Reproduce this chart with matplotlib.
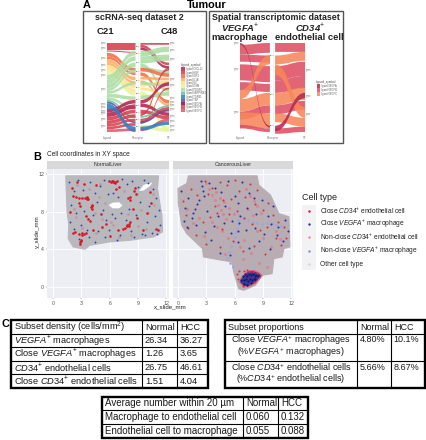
import matplotlib
matplotlib.use("Agg")
import matplotlib.pyplot as plt
from matplotlib.path import Path
from matplotlib.patches import PathPatch, Polygon, Rectangle

plt.rcParams['font.family'] = ['Liberation Sans', 'DejaVu Sans']
plt.rcParams['mathtext.fontset'] = 'custom'
plt.rcParams['mathtext.rm'] = 'Liberation Sans'
plt.rcParams['mathtext.it'] = 'Liberation Sans:italic'
plt.rcParams['mathtext.bf'] = 'Liberation Sans:bold'
plt.rcParams['mathtext.bfit'] = 'Liberation Sans:italic:bold'

W, H = 426, 440

# alluvial 1: colour index, start, end, height (percent of frequency, from top)
PAL1 = ['#b5234f', '#d53e4f', '#f46d43', '#fdae61', '#fee08b', '#e6f598', '#abdda4',
        '#66c2a5', '#2f7fc1', '#5e4fa2', '#9e0142', '#d8404f', '#e0566b']
LEG1 = ['ligand CXCL12', 'ligand HGF', 'ligand IGF1', 'ligand IL1B', 'ligand IL6',
        'ligand OSM', 'ligand PDGFC', 'ligand SERPINE1', 'ligand TGFB1', 'ligand TNF',
        'ligand VEGFA', 'ligand VEGFB', 'ligand VEGFC']
A1_LEFT = [(1, 0, 0, 8), (0, 8.5, 10, 1), (2, 11, 28, 4), (2, 15, 33, 3), (3, 18, 38, 4),
           (3, 22, 43, 3), (4, 25, 47, 4), (4, 29, 52, 3), (5, 32, 55, 4), (6, 36, 9, 5),
           (6, 41, 15, 5), (6, 46, 22, 5), (6, 51, 30, 3), (6, 54, 44, 3), (6, 57, 60, 4),
           (6, 61, 72, 3), (7, 64, 82, 2), (9, 66, 88, 2), (0, 74, 64, 4), (0, 78, 69, 5),
           (1, 83, 75, 4), (1, 87, 80, 4), (11, 91, 85, 3), (11, 94, 90, 3), (12, 97, 96, 3),
           (8, 68, 94, 6)]
A1_RIGHT = [(1, 0, 0, 2), (1, 2, 22, 3), (0, 5, 26, 3), (6, 9, 4, 6), (6, 15, 13, 4),
            (6, 19, 16, 4), (6, 23, 51, 4), (6, 27, 31, 3), (2, 28, 34, 4), (2, 33, 64, 4),
            (3, 38, 39, 3), (3, 42, 68, 3), (4, 46, 42, 3), (4, 50, 57, 3), (5, 54, 94, 5),
            (6, 59, 55, 4), (6, 44, 46, 3), (0, 64, 44, 4), (0, 68, 78, 4), (1, 75, 82, 4),
            (1, 79, 28, 3), (11, 85, 72, 4), (11, 89, 50, 2), (7, 82, 70, 2), (9, 88, 75, 2),
            (12, 96, 85, 3), (5, 92, 96, 4), (8, 94, 88, 4)]
A1_LAB_L = [0, 6, 17, 25, 30, 36, 52, 68, 72, 76, 79, 85, 93]
A1_LAB_M = [4, 12, 22, 32, 42, 50, 57, 63, 70, 78, 86, 94]
A1_LAB_R = [0, 8, 18, 40, 47, 62, 66, 70, 74, 82, 88, 93, 98]

# alluvial 2
PAL2 = ['#b8284f', '#dd5064', '#f6875a']
LEG2 = ['ligand VEGFA', 'ligand VEGFB', 'ligand VEGFC']
A2_LEFT = [(1, 2, 0, 11), (1, 13, 14, 8), (1, 24, 26, 18), (1, 44, 46, 9), (1, 77, 70, 9),
           (2, 78, 79, 17), (1, 92, 96, 4), (2, 53, 14, 10), (2, 63, 56, 14), (0, 0, 93, 2)]
A2_RIGHT = [(1, 0, 0, 10), (2, 14, 10, 10), (1, 26, 21, 16), (1, 42, 37, 14), (2, 56, 50, 14),
            (1, 70, 65, 10), (2, 79, 84, 10), (1, 96, 94, 6),
            (2, 24, 72, 12), (0, 93, 56, 6)]
A2_LAB_L = [0, 29, 78]
A2_LAB_M = [14, 58, 93]
A2_LAB_R = [30, 59, 80]

# tissue outlines, slide mm
NORMAL_X = [1.35, 11.17, 11.06, 11.28, 11.52, 11.6, 10.64, 8.16, 6.03, 3.9, 3.37, 2.13, 1.6, 1.67, 1.49, 1.42]
NORMAL_Y = [11.8, 11.8, 10.46, 9.04, 7.62, 5.85, 5.32, 4.96, 4.79, 4.43, 4.0, 4.26, 5.14, 6.56, 7.98, 9.75]
HOLE1_X = [5.9, 6.3, 7.0, 7.35, 7.0, 6.3]
HOLE1_Y = [8.7, 8.95, 9.0, 8.65, 8.35, 8.35]
HOLE2_X = [9.1, 9.6, 10.5, 10.3, 9.6]
HOLE2_Y = [10.2, 10.85, 11.1, 10.75, 10.25]
TUMOUR_X = [1.1, 8.37, 8.55, 9.79, 10.67, 11.74, 11.84, 11.2, 11.03, 10.14, 9.96, 8.9, 8.19,
            6.95, 6.42, 5.89, 5.71, 4.65, 2.7, 2.59, 0.92, 0.39, 0.04, 0.0, 0.92]
TUMOUR_Y = [11.8, 11.8, 10.82, 9.75, 7.8, 7.45, 4.26, 4.08, 3.19, 3.01, 1.42, 1.24, 0.18,
            -0.35, -0.18, 1.6, 2.66, 2.84, 3.19, 4.08, 5.67, 6.56, 8.87, 10.46, 10.99]
HOT_X = [6.7, 7.4, 8.0, 8.6, 8.9, 8.2, 7.4, 6.9, 6.5]
HOT_Y = [1.0, 1.7, 1.75, 1.5, 1.2, 0.4, 0.0, 0.1, 0.5]

# cells
N_RED_X = [2.0, 2.1, 2.4, 2.8, 3.1, 3.4, 3.6, 3.7, 2.8, 2.9, 4.1, 4.1, 3.5, 3.7, 3.9, 2.1, 2.3, 2.7, 3.1, 3.0, 2.9,
           5.9, 6.1, 6.3, 6.6, 6.8, 6.7, 7.0, 7.9, 8.2, 8.1, 8.7, 8.6, 8.8, 10.3, 10.4, 8.0, 7.8, 7.6, 7.4, 6.9,
           5.2, 5.6, 9.5, 9.9, 10.9, 11.1, 3.3, 4.5, 2.5, 1.8, 5.1, 6.0, 8.5, 8.9, 4.2,
           3.55, 3.65, 4.05, 4.15, 8.1, 8.0, 7.85, 6.2, 6.4, 6.55, 2.85, 2.95, 3.05, 3.25, 3.45]
N_RED_Y = [10.5, 9.7, 9.6, 9.5, 9.5, 9.4, 9.5, 9.3, 8.9, 8.6, 8.6, 8.3, 7.5, 7.2, 7.0, 5.7, 5.8, 5.6, 5.7, 4.9, 4.6,
           11.2, 11.1, 11.1, 11.0, 11.3, 10.4, 10.6, 9.5, 9.6, 9.2, 10.5, 10.2, 9.9, 10.1, 8.9, 6.7, 6.5, 6.3, 6.2, 6.0,
           6.4, 6.7, 6.1, 7.9, 6.2, 6.1, 10.9, 10.8, 11.1, 8.0, 7.7, 5.4, 8.3, 7.3, 6.1,
           9.35, 9.6, 8.45, 8.75, 6.85, 6.45, 6.6, 11.25, 11.2, 11.15, 4.75, 5.0, 5.5, 5.65, 5.75]
N_BLUE_X = [1.7, 2.2, 2.6, 3.2, 3.9, 4.4, 5.0, 5.4, 5.8, 6.3, 6.9, 7.3, 7.8, 8.4, 9.0, 9.6, 10.1, 10.6, 10.9, 11.2,
            1.9, 2.4, 3.3, 4.7, 5.3, 6.2, 7.2, 8.0, 9.2, 10.2, 10.8, 1.8, 3.0, 4.2, 5.6, 6.6, 7.7, 8.8, 9.9, 11.3,
            2.2, 3.6, 4.8, 5.9, 7.1, 8.3, 9.4, 10.5, 2.7, 3.8, 5.5, 6.8, 8.6, 9.7, 11.0, 4.4]
N_BLUE_Y = [11.1, 10.2, 11.4, 10.3, 11.1, 10.0, 10.7, 11.4, 9.9, 10.0, 9.6, 11.5, 10.9, 11.2, 10.6, 11.4, 11.0, 10.4, 9.4, 8.2,
            8.7, 7.9, 8.1, 9.0, 8.2, 7.7, 7.9, 8.3, 9.0, 8.6, 7.5, 6.9, 6.6, 7.6, 7.1, 7.3, 7.1, 7.6, 6.9, 6.6,
            6.2, 6.0, 5.9, 6.1, 5.5, 5.9, 5.6, 5.7, 5.1, 5.3, 5.3, 5.0, 5.3, 5.5, 5.6, 4.8]
N_PALE_X = [2.5, 3.8, 4.9, 5.5, 7.5, 8.9, 9.3, 10.6, 2.2, 4.4, 5.2, 6.1, 7.9, 9.0, 10.1, 3.1, 4.6, 6.4, 8.3, 9.8, 2.4, 5.0, 7.0, 10.7]
N_PALE_Y = [10.8, 10.4, 9.6, 8.9, 10.2, 9.9, 8.2, 9.9, 8.3, 7.9, 7.2, 6.9, 7.7, 6.5, 7.9, 6.3, 5.7, 6.6, 5.5, 6.2, 7.4, 10.9, 5.3, 8.7]
T_RED_X = [0.5, 0.8, 1.4, 2.0, 2.9, 3.2, 3.6, 3.9, 4.4, 4.8, 5.2, 5.6, 6.0, 6.5, 7.1, 7.6, 8.1, 8.4, 9.0, 9.5,
           10.1, 10.6, 11.2, 11.4, 1.1, 1.9, 2.6, 3.4, 4.1, 4.7, 5.4, 6.2, 7.0, 7.8, 8.7, 9.4, 10.4, 10.9, 3.0, 4.4,
           5.8, 6.9, 8.0, 9.2, 6.2, 6.5, 7.0, 7.5, 7.9, 6.4, 7.6, 8.4, 6.9, 7.3, 8.0, 8.6]
T_RED_Y = [9.1, 7.6, 10.4, 9.8, 11.2, 9.9, 10.5, 8.6, 11.1, 9.2, 10.8, 9.3, 11.4, 10.2, 9.6, 10.9, 8.8, 10.3, 8.2, 8.9,
           7.6, 6.9, 6.4, 5.2, 6.3, 5.5, 6.9, 7.4, 7.9, 6.2, 7.7, 8.1, 7.3, 6.7, 6.1, 6.4, 5.2, 4.5, 4.6, 4.2,
           4.9, 3.8, 4.3, 3.5, 1.4, 1.75, 1.75, 1.55, 1.6, 0.9, 0.3, 1.45, 0.15, 1.8, 0.5, 1.1]
T_PINK_X = [3.0, 3.3, 3.6, 3.9, 4.2, 4.5, 4.8, 5.1, 4.0, 4.4, 4.9, 5.4, 5.9, 3.6, 4.1, 4.7, 5.3, 7.2, 7.6, 8.0,
            8.4, 8.8, 7.4, 7.9, 8.4, 9.0, 7.0, 6.6, 2.2, 1.6, 1.0, 2.8, 10.4, 10.8, 9.8, 6.9, 7.7, 8.6, 9.4, 5.0]
T_PINK_Y = [11.0, 10.4, 9.8, 9.2, 8.7, 8.2, 7.7, 7.2, 10.1, 9.5, 9.0, 8.4, 7.8, 6.9, 6.4, 5.9, 5.2, 10.4, 9.7, 9.1,
            8.6, 7.9, 8.3, 7.6, 5.9, 5.2, 5.0, 4.2, 7.3, 6.8, 8.3, 5.4, 5.9, 5.1, 4.2, 3.0, 3.6, 2.6, 2.1, 3.5]
T_BLUE_X = [2.4, 2.5, 2.6, 2.7, 2.2, 2.0, 1.8, 1.6, 3.3, 3.9, 4.6, 5.3, 6.0, 6.8, 7.5, 8.0, 0.3, 0.7, 1.1, 1.5,
            0.9, 0.6, 1.9, 3.1, 4.2, 5.0, 5.7, 6.4, 7.3, 8.3, 8.9, 9.5, 10.0, 10.6, 11.3, 11.6, 2.9, 3.8, 4.9, 5.6,
            6.6, 6.5, 6.4, 7.2, 8.2, 9.1, 9.8, 10.5, 11.1, 3.5, 4.4, 5.5, 6.3, 7.5, 8.6, 9.7]
T_BLUE_Y = [11.3, 10.7, 10.2, 9.7, 9.2, 8.8, 8.3, 7.9, 11.0, 10.5, 10.1, 11.3, 9.7, 11.1, 10.0, 9.4, 10.2, 8.4, 9.4, 7.3,
            6.4, 7.0, 6.6, 8.1, 7.5, 8.6, 7.0, 8.9, 8.4, 7.8, 9.2, 7.5, 8.6, 6.4, 7.1, 5.9, 5.8, 6.5, 6.8, 5.7,
            7.5, 6.8, 5.9, 6.0, 6.3, 5.6, 6.7, 5.5, 4.9, 5.0, 3.6, 3.4, 4.8, 4.1, 4.9, 4.0]
T_PALE_X = [6.5, 6.4, 6.3, 6.2, 6.1, 6.0, 5.9, 6.9, 7.4, 7.9, 8.4, 8.9, 9.4, 9.9, 10.4, 10.9, 5.6, 5.4, 5.2, 5.5, 5.8]
T_PALE_Y = [7.6, 7.1, 6.7, 6.2, 5.8, 5.3, 4.8, 7.3, 7.1, 6.9, 6.8, 6.7, 6.8, 6.8, 6.6, 6.5, 4.3, 3.7, 3.1, 2.6, 2.1]
T_DARK_X = [6.9, 7.1, 7.3, 7.5, 7.7, 7.9, 8.1, 8.3, 8.5, 7.0, 7.2, 7.4, 7.6, 7.8, 8.0, 8.2, 6.7, 7.0, 7.3, 7.7]
T_DARK_Y = [1.2, 1.4, 1.2, 1.4, 1.3, 1.4, 1.2, 1.3, 1.2, 0.7, 0.9, 0.6, 0.9, 0.7, 0.8, 0.9, 0.7, 0.3, 0.2, 0.4]

XTICKS = [0, 3, 6, 9, 12]
YTICKS = [0, 4, 8, 12]

# legend of panel B
CELL_LABELS = [r'Close $\mathit{CD34}^{+}$ endothelial cell', r'Close $\mathit{VEGFA}^{+}$ macrophage',
               r'Non-close $\mathit{CD34}^{+}$ endothelial cell', r'Non-close $\mathit{VEGFA}^{+}$ macrophage',
               'Other cell type']
CELL_COLORS = ['#e01020', '#2030a0', '#f0808a', '#8088d8', '#d4d4d4']

# tables
T1_ROWS = [[r'Subset density (cells/mm$^{2}$)', 'Normal', 'HCC'],
           [r'$\mathit{VEGFA}^{+}$ macrophages', '26.34', '36.27'],
           [r'Close $\mathit{VEGFA}^{+}$ macrophages', '1.26', '3.65'],
           [r'$\mathit{CD34}^{+}$ endothelial cells', '26.75', '46.61'],
           [r'Close $\mathit{CD34}^{+}$ endothelial cells', '1.51', '4.04']]
T2_ROWS = [['Subset proportions', 'Normal', 'HCC'],
           [r'Close $\mathit{VEGFA}^{+}$ macrophages' + '\n' + r'(%$\mathit{VEGFA}^{+}$ macrophages)', '4.80%', '10.1%'],
           [r'Close $\mathit{CD34}^{+}$ endothelial cells' + '\n' + r'(%$\mathit{CD34}^{+}$ endothelial cells)', '5.66%', '8.67%']]
T3_ROWS = [['Average number within 20 µm', 'Normal', 'HCC'],
           ['Macrophage to endothelial cell', '0.060', '0.132'],
           ['Endothelial cell to macrophage', '0.055', '0.088']]


def px_axes(fig, x0, y0, x1, y1):
    return fig.add_axes([x0 / W, 1 - y1 / H, (x1 - x0) / W, (y1 - y0) / H])


def flow(ax, xa, xb, ya, yb, h, color, alpha):
    xm = (xa + xb) / 2
    verts = [(xa, ya), (xm, ya), (xm, yb), (xb, yb), (xb, yb + h), (xm, yb + h), (xm, ya + h), (xa, ya + h), (xa, ya)]
    codes = [Path.MOVETO, Path.CURVE4, Path.CURVE4, Path.CURVE4, Path.LINETO,
             Path.CURVE4, Path.CURVE4, Path.CURVE4, Path.CLOSEPOLY]
    ax.add_patch(PathPatch(Path(verts, codes), fc=color, ec='none', alpha=alpha))


def alluvial(fig, x0, x1, pal, left, right, labs, gap):
    unit = (x1 - x0) / 2
    ax = px_axes(fig, x0 - 8, 40, x1 + 8, 135)
    ax.set_xlim(1 - 8 / unit, 3 + 8 / unit)
    ax.set_ylim(100 + 3 * 100 / 89, -3 * 100 / 89)
    ax.axis('off')
    for x in (1, 2, 3):
        ax.plot([x, x], [0, 100], color='#eeeeee', lw=0.4, zorder=0)
    for c, a, b, h in left:
        flow(ax, 1, 2 - gap, a, b, h, pal[c], 0.88)
    for c, a, b, h in right:
        flow(ax, 2 + gap, 3, a, b, h, pal[c], 0.88)
    for y in labs[0]:
        ax.text(1 - 0.03, y, 'gene', fontsize=1.8, color='#777777', ha='right', va='center')
    for y in labs[1]:
        ax.text(2, y, 'gene', fontsize=1.5, color='#777777', ha='center', va='center')
    for y in labs[2]:
        ax.text(3 + 0.03, y, 'gene', fontsize=1.8, color='#777777', ha='left', va='center')
    for x, s in zip((1, 2, 3), ('Ligand', 'Receptor', 'TF')):
        ax.text(x, 107, s, fontsize=2.2, color='#777777', ha='center', va='center')


def tissue(ax, xs, ys, color):
    ax.add_patch(Polygon(list(zip(xs, ys)), closed=True, fc=color, ec=color, lw=0.8, zorder=2))


def slide_axes(fig, x0, x1, xzero, show_y):
    ax = px_axes(fig, x0, 169, x1, 298)
    ax.set_xlim((x0 - xzero) / 9.45, (x1 - xzero) / 9.45)
    ax.set_ylim((287 - 298) / 9.42, (287 - 169) / 9.42)
    ax.set_facecolor('#eceef3')
    ax.set_xticks(XTICKS)
    ax.set_yticks(YTICKS if show_y else [])
    ax.grid(True, color='white', lw=0.6)
    ax.set_axisbelow(True)
    ax.tick_params(labelsize=3.8, length=1, width=0.3, pad=1, colors='#555555')
    for s in ax.spines.values():
        s.set_visible(False)
    return ax


def table(bg, x0, y0, x1, y1, cols, rows, cells, fs, two_lines=False):
    for c in cols:
        bg.plot([c, c], [y0, y1], color='black', lw=0.8, zorder=4)
    for r in rows:
        bg.plot([x0, x1], [r, r], color='black', lw=0.8, zorder=4)
    bg.add_patch(Rectangle((x0, y0), x1 - x0, y1 - y0, fc='none', ec='black', lw=1.7, zorder=5))
    ys = [y0] + rows + [y1]
    xs = [x0] + cols + [x1]
    for i, row in enumerate(cells):
        ym = (ys[i] + ys[i + 1]) / 2
        for j, s in enumerate(row):
            if two_lines and i > 0 and j == 0:
                first, second = s.split('\n')
                xc = (xs[0] + xs[1]) / 2
                bg.text(xc, ys[i] + 6, first, fontsize=fs, ha='center', va='center', color='#1a1a1a')
                bg.text(xc, ys[i] + 18.5, second, fontsize=fs, ha='center', va='center', color='#1a1a1a')
            elif two_lines and i > 0:
                bg.text(xs[j] + 2.5, ys[i] + 6, s, fontsize=fs, ha='left', va='center', color='#1a1a1a')
            else:
                bg.text(xs[j] + 3, ym, s, fontsize=fs, ha='left', va='center', color='#1a1a1a')


fig = plt.figure(figsize=(W / 100, H / 100), dpi=100)
bg = fig.add_axes([0, 0, 1, 1])
bg.set_xlim(0, W)
bg.set_ylim(H, 0)
bg.axis('off')

# panel A frames and titles
bg.add_patch(Rectangle((83, 11), 123, 132, fc='none', ec='#555555', lw=1.0))
bg.add_patch(Rectangle((209, 11), 134, 132, fc='none', ec='#555555', lw=1.0))
bg.text(83, 5, 'A', fontsize=7.8, fontweight='bold', ha='left', va='center')
bg.text(207, 5, 'Tumour', fontsize=7.8, fontweight='bold', ha='center', va='center')
bg.text(139, 18, 'scRNA-seq dataset 2', fontsize=6.4, fontweight='bold', ha='center', va='center', color='#222222')
bg.text(105, 32, 'C21', fontsize=6.8, fontweight='bold', ha='center', va='center', color='#222222')
bg.text(169, 32, 'C48', fontsize=6.8, fontweight='bold', ha='center', va='center', color='#222222')
bg.text(276, 18, 'Spatial transcriptomic dataset', fontsize=6.4, fontweight='bold', ha='center', va='center', color='#222222')
bg.text(240, 28, r'$\mathbfit{VEGFA}^{+}$', fontsize=6.8, ha='center', va='center', color='#222222')
bg.text(240, 38, 'macrophage', fontsize=6.8, fontweight='bold', ha='center', va='center', color='#222222')
bg.text(310, 28, r'$\mathbfit{CD34}^{+}$', fontsize=6.8, ha='center', va='center', color='#222222')
bg.text(309, 38, 'endothelial cell', fontsize=6.8, fontweight='bold', ha='center', va='center', color='#222222')

alluvial(fig, 107, 169, PAL1, A1_LEFT, A1_RIGHT, (A1_LAB_L, A1_LAB_M, A1_LAB_R), 0.08)
alluvial(fig, 240, 305, PAL2, A2_LEFT, A2_RIGHT, (A2_LAB_L, A2_LAB_M, A2_LAB_R), 0.08)

# alluvial legends
bg.text(180.5, 65, 'Ligand_symbol', fontsize=2.2, color='#555555', ha='left', va='center')
for i, (c, s) in enumerate(zip(PAL1, LEG1)):
    yy = 67.5 + i * 3.45
    bg.add_patch(Rectangle((181, yy), 3.5, 3.45, fc=c, ec='none', alpha=0.85))
    bg.text(185.5, yy + 1.7, s, fontsize=1.8, color='#555555', ha='left', va='center')
bg.text(316, 81.5, 'Ligand_symbol', fontsize=2.2, color='#555555', ha='left', va='center')
for i, (c, s) in enumerate(zip(PAL2, LEG2)):
    yy = 84 + i * 3.9
    bg.add_patch(Rectangle((316.5, yy), 3.5, 3.9, fc=c, ec='none', alpha=0.85))
    bg.text(321, yy + 1.9, s, fontsize=1.8, color='#555555', ha='left', va='center')

# panel B
bg.text(33, 157, 'B', fontsize=7.8, fontweight='bold', ha='left', va='center')
bg.text(47, 155, 'Cell coordinates in XY space', fontsize=4.7, ha='left', va='center', color='#222222')
for x0, x1, s in ((47, 169, 'NormalLiver'), (173, 293, 'CancerousLiver')):
    bg.add_patch(Rectangle((x0, 161), x1 - x0, 8, fc='#d9d9d9', ec='none'))
    bg.text((x0 + x1) / 2, 165, s, fontsize=3.8, ha='center', va='center', color='#333333')
bg.text(170, 307, 'x_slide_mm', fontsize=4.4, ha='center', va='center', color='#222222')
bg.text(37, 232, 'y_slide_mm', fontsize=4.4, rotation=90, ha='center', va='center', color='#222222')

ax1 = slide_axes(fig, 47, 169, 53, True)
tissue(ax1, NORMAL_X, NORMAL_Y, '#b9b9bd')
ax1.add_patch(Polygon(list(zip(HOLE1_X, HOLE1_Y)), closed=True, fc='white', ec='none', zorder=3))
ax1.add_patch(Polygon(list(zip(HOLE2_X, HOLE2_Y)), closed=True, fc='white', ec='none', zorder=3))
ax1.scatter(N_PALE_X, N_PALE_Y, s=4, color='#c09aa8', lw=0, zorder=3)
ax1.scatter(N_BLUE_X, N_BLUE_Y, s=1.8, color='#3040b0', lw=0, zorder=4)
ax1.scatter(N_RED_X, N_RED_Y, s=3.5, color='#d81828', lw=0, zorder=4)

ax2 = slide_axes(fig, 173, 293, 178, True)
ax2.tick_params(axis='y', length=0, labelleft=False)
tissue(ax2, TUMOUR_X, TUMOUR_Y, '#b8adb2')
ax2.add_patch(Polygon(list(zip(HOT_X, HOT_Y)), closed=True, fc='#3d3a90', ec='#e06a78', lw=0.9, zorder=3))
ax2.scatter(T_PALE_X, T_PALE_Y, s=3.5, color='#9aa4e2', lw=0, zorder=3)
ax2.scatter(T_PINK_X, T_PINK_Y, s=5, color='#d08a90', lw=0, zorder=3)
ax2.scatter(T_RED_X, T_RED_Y, s=2.2, color='#d83040', lw=0, zorder=4)
ax2.scatter(T_BLUE_X, T_BLUE_Y, s=2.2, color='#2a30a8', lw=0, zorder=4)
ax2.scatter(T_DARK_X, T_DARK_Y, s=2.5, color='#14147a', lw=0, zorder=5)

# legend of panel B
bg.text(302, 197, 'Cell type', fontsize=6.5, ha='left', va='center', color='#222222')
bg.add_patch(Rectangle((302, 205), 14, 65, fc='#f2f2f4', ec='none'))
for y, s, c in zip((211, 224, 237, 251, 264), CELL_LABELS, CELL_COLORS):
    bg.scatter([309], [y], s=3, color=c, lw=0)
    bg.text(320, y, s, fontsize=4.8, ha='left', va='center', color='#222222')

# panel C
bg.text(1, 324, 'C', fontsize=7.8, fontweight='bold', ha='left', va='center')
table(bg, 11, 320, 208, 388, [142, 177], [334, 347, 361, 374], T1_ROWS, 6.7)
table(bg, 225, 320, 425, 388, [357, 391], [334, 361], T2_ROWS, 6.5, two_lines=True)
table(bg, 102, 397, 308, 438, [243, 278], [410, 424], T3_ROWS, 7.0)

fig.savefig('out.png', dpi=100)
